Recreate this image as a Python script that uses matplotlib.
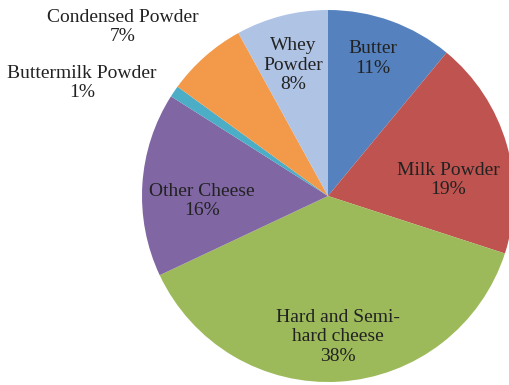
import matplotlib.pyplot as plt

# Dairy product shares
products = ['Butter', 'Milk Powder', 'Hard and Semi-\nhard cheese', 'Other Cheese',
            'Buttermilk Powder', 'Condensed Powder', 'Whey\nPowder']
shares = [11, 19, 38, 16, 1, 7, 8]
colors = ['#5582BE', '#BE534F', '#9DBA5B', '#8066A3', '#4BADC6', '#F29A4A', '#AFC3E4']

# label centres, in units of the pie radius
label_pos = [(0.24, 0.74), (0.645, 0.086), (0.054, -0.758), (-0.677, -0.027),
             (-1.323, 0.608), (-1.102, 0.909), (-0.188, 0.704)]

fig = plt.figure(figsize=(5.09, 3.85), dpi=100)
ax = fig.add_axes([0, 0, 1, 1])

ax.pie(shares, colors=colors, startangle=90, counterclock=False, radius=1,
       wedgeprops=dict(linewidth=0))

for name, val, (x, y) in zip(products, shares, label_pos):
    ax.text(x, y, f'{name}\n{val}%', ha='center', va='center', fontsize=14,
            family='Liberation Serif', color='#222222', linespacing=1.2)

ax.set_xlim(-328 / 186, (509 - 328) / 186)
ax.set_ylim(-(385 - 196) / 186, 196 / 186)
ax.set_aspect('auto')
ax.axis('off')

fig.savefig('out.png', dpi=100)
